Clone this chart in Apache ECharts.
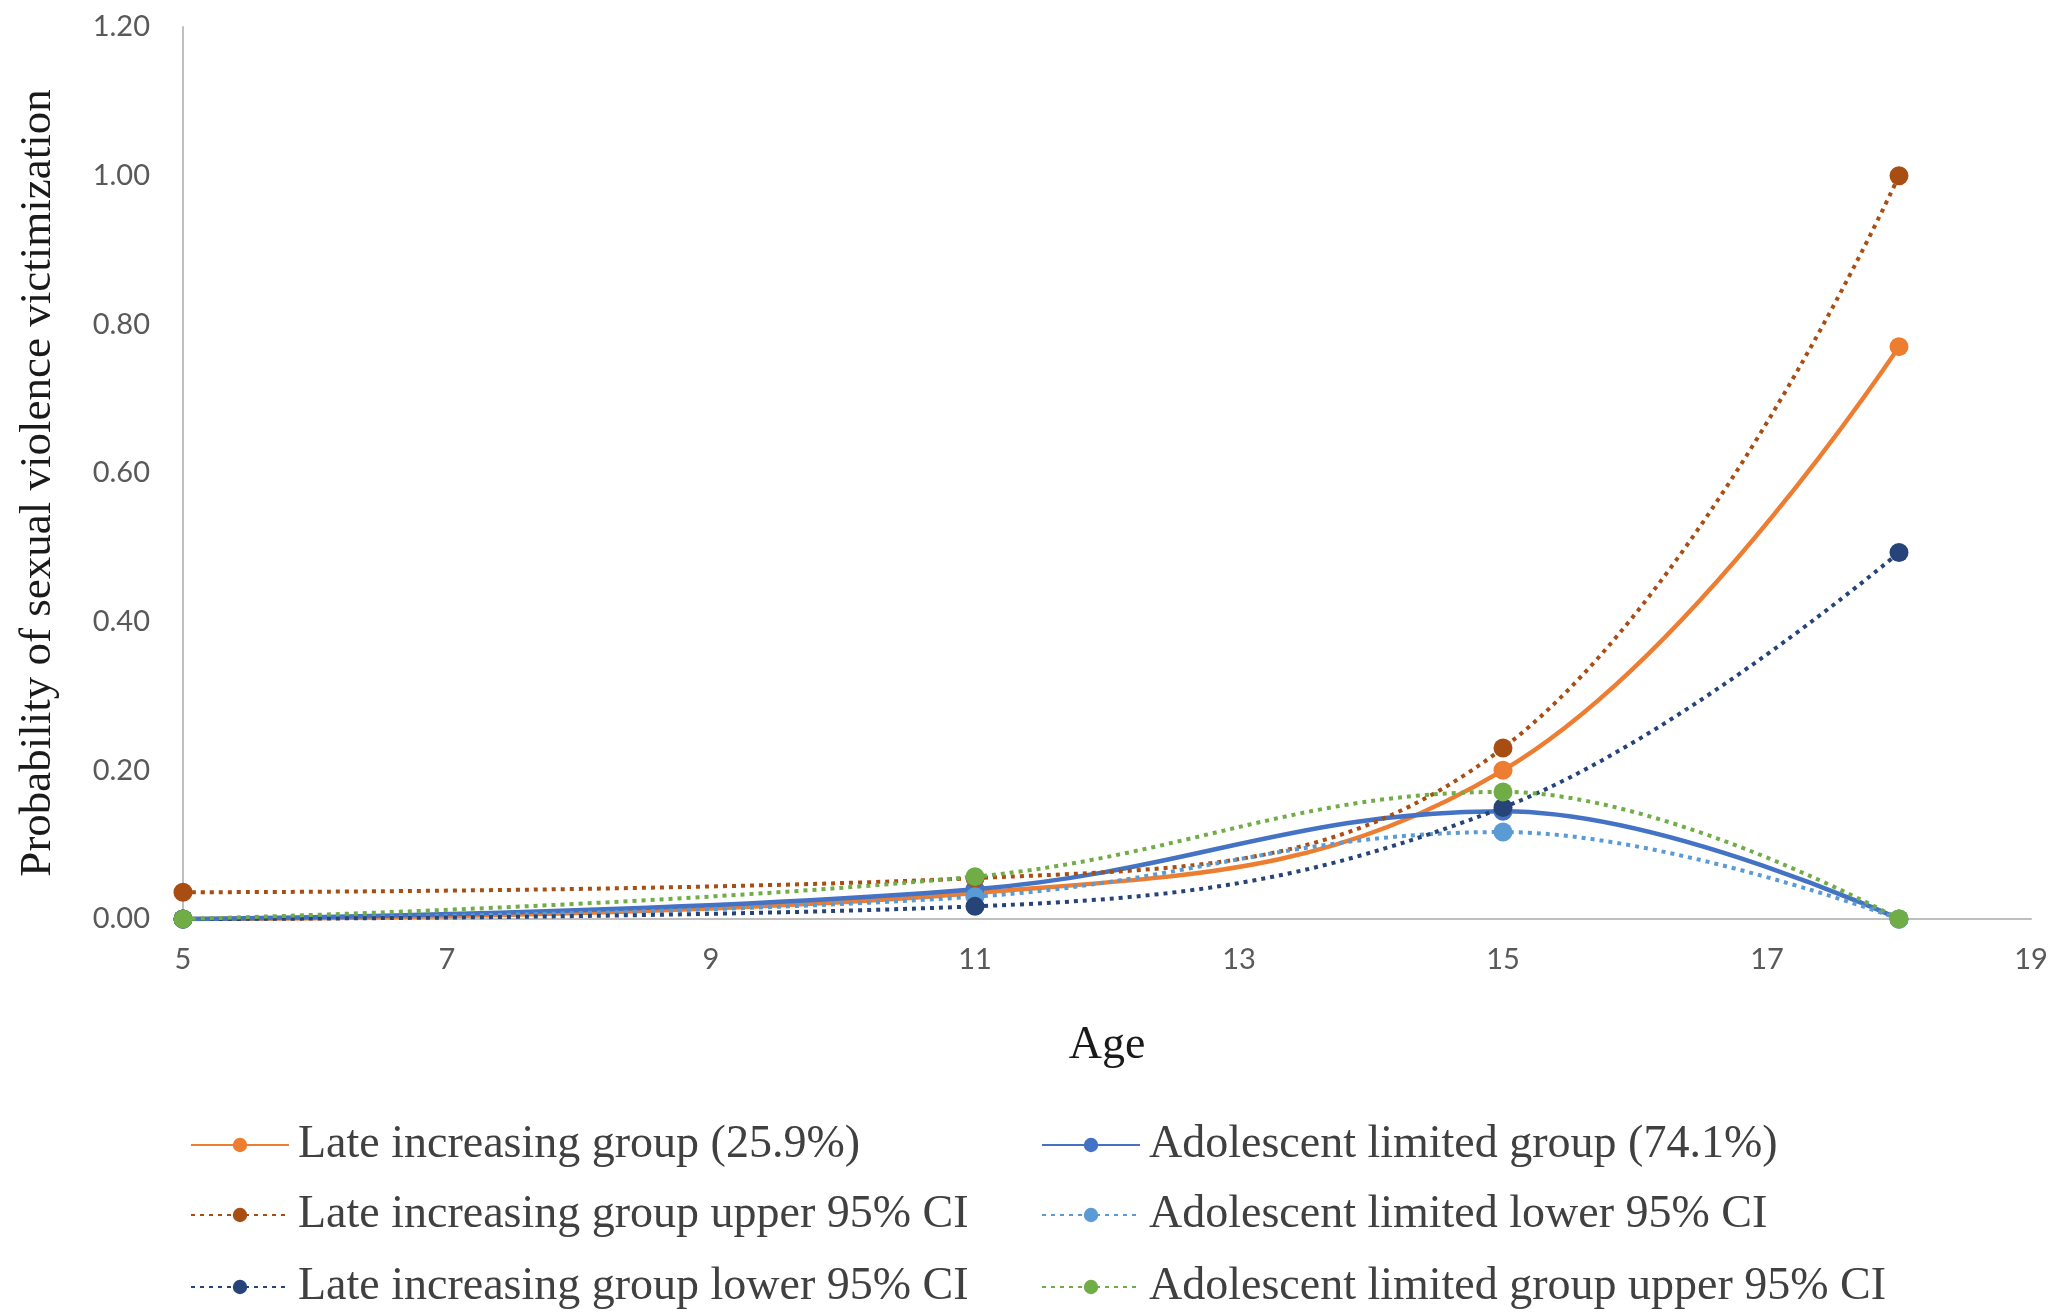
<!DOCTYPE html>
<html>
<head>
<meta charset="utf-8">
<script src="https://cdn.jsdelivr.net/npm/echarts@6/dist/echarts.min.js"></script>
<style>
html,body{margin:0;padding:0;background:#fff;}
#c{width:2054px;height:1314px;}
</style>
</head>
<body>
<div id="c"></div>
<script>
const ages = [5, 11, 15, 18];
const lateIncreasing = [0.00, 0.035, 0.20, 0.77];
const adolescentLimited = [0.00, 0.04, 0.145, 0.00];
const lateUpperCI = [0.036, 0.055, 0.23, 1.00];
const adolescentLowerCI = [0.00, 0.03, 0.117, 0.00];
const lateLowerCI = [0.00, 0.017, 0.15, 0.493];
const adolescentUpperCI = [0.00, 0.057, 0.171, 0.00];

const names = [
  'Late increasing group (25.9%)',
  'Adolescent limited group (74.1%)',
  'Late increasing group upper 95% CI',
  'Adolescent limited lower 95% CI',
  'Late increasing group lower 95% CI',
  'Adolescent limited group upper 95% CI'
];
const values = [lateIncreasing, adolescentLimited, lateUpperCI, adolescentLowerCI, lateLowerCI, adolescentUpperCI];
const colors = ['#ED7D31', '#4472C4', '#A94E13', '#5B9BD5', '#264478', '#70AD47'];
const dotted = [false, false, true, true, true, true];

const serif = '"Liberation Serif", "Times New Roman", serif';

const series = names.map((n, i) => ({
  name: n,
  type: 'line',
  smooth: 0.4,
  data: ages.map((a, j) => [a, values[i][j]]),
  symbol: 'circle',
  symbolSize: 19,
  itemStyle: { color: colors[i] },
  lineStyle: dotted[i]
    ? { color: colors[i], width: 4, type: [4, 5] }
    : { color: colors[i], width: 4.5 },
  emphasis: { disabled: true },
  z: 2 + i
}));

const legendText = { fontFamily: serif, fontSize: 46, color: '#404040', padding: [0, 0, 0, 4] };
const colLeft = [190, 1041];
const rowTop = [1122, 1192, 1264];
const legends = names.map((n, i) => ({
  data: [n],
  left: colLeft[i % 2],
  top: rowTop[Math.floor(i / 2)],
  itemWidth: 98, itemHeight: 18, itemGap: 0,
  padding: 0,
  textStyle: legendText,
  selectedMode: false
}));

const option = {
  animation: false,
  backgroundColor: '#fff',
  grid: { left: 183, right: 23, top: 27, bottom: 395, containLabel: false },
  xAxis: {
    type: 'value', min: 5, max: 19, interval: 2,
    name: 'Age', nameLocation: 'middle', nameGap: 104,
    nameTextStyle: { fontFamily: serif, fontSize: 46, color: '#1a1a1a' },
    axisLine: { show: true, onZero: false, lineStyle: { color: '#bfbfbf', width: 2 } },
    axisTick: { show: false },
    splitLine: { show: false },
    axisLabel: { fontFamily: 'Lato', fontSize: 29, color: '#595959', margin: 26 }
  },
  yAxis: {
    type: 'value', min: 0, max: 1.2, interval: 0.2,
    name: 'Probability of sexual violence victimization', nameLocation: 'middle', nameGap: 122,
    nameTextStyle: { fontFamily: serif, fontSize: 45, color: '#1a1a1a', padding: [0, 20, 0, 0] },
    axisLine: { show: true, lineStyle: { color: '#bfbfbf', width: 2 } },
    axisTick: { show: false },
    splitLine: { show: false },
    axisLabel: { fontFamily: 'Lato', fontSize: 29, color: '#595959', margin: 33, formatter: v => v.toFixed(2) }
  },
  legend: legends,
  series: series
};

const chart = echarts.init(document.getElementById('c'), null, { renderer: 'canvas' });
chart.setOption(option);
</script>
</body>
</html>
